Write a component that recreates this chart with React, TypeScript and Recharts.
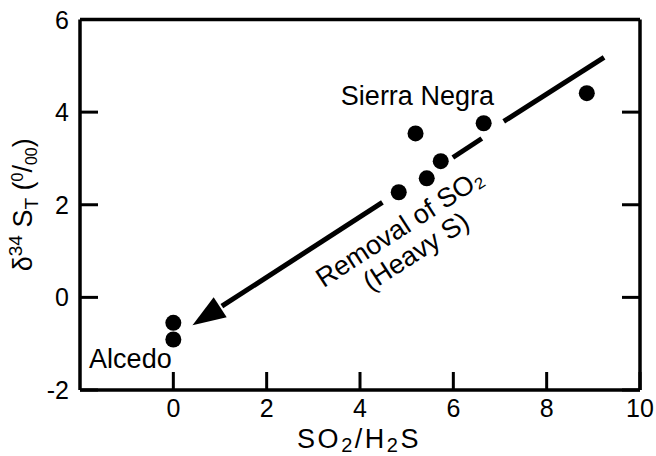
import {
  ScatterChart,
  Scatter,
  XAxis,
  YAxis,
  ReferenceLine,
  ReferenceDot,
} from "recharts";

// SO2/H2S ratio vs d34S of total sulfur
const ratio = [0, 0, 4.83, 5.43, 5.73, 5.19, 6.65, 8.86];
const delta = [-0.55, -0.91, 2.27, 2.57, 2.94, 3.54, 3.76, 4.41];

const xTicks = [0, 2, 4, 6, 8, 10];
const yTicks = [-2, 0, 2, 4, 6];

// trend arrow, drawn in three pieces (gaps around the dots)
const trendFrom = [
  { x: 9.23, y: 5.18 },
  { x: 6.61, y: 3.43 },
  { x: 4.48, y: 2.05 },
];
const trendTo = [
  { x: 7.08, y: 3.8 },
  { x: 5.99, y: 3.02 },
  { x: 0.41, y: -0.6 },
];

const siteNames = ["Sierra Negra", "Alcedo"];
const siteX = [5.23, -0.92];
const siteY = [4.35, -1.32];

const arrowNote = ["Removal of SO\u2082", "(Heavy S)"];
const noteX = [4.85, 5.2];
const noteY = [1.5, 0.99];

const points = ratio.map((r, i) => ({ x: r, y: delta[i] }));

const FONT = '"Liberation Sans", Arial, Helvetica, sans-serif';
const axisLine = { stroke: "#000", strokeWidth: 3.5 };
const TICK = 18;

const BottomTick = (props: any) => {
  const { x, y, payload } = props;
  return (
    <g>
      <line x1={x} x2={x} y1={y} y2={y - TICK} stroke="#000" strokeWidth={3} />
      <text x={x} y={y + 27} textAnchor="middle" fontFamily={FONT} fontSize={25} fill="#000">
        {payload.value}
      </text>
    </g>
  );
};

const LeftTick = (props: any) => {
  const { x, y, payload } = props;
  return (
    <g>
      <line x1={x} x2={x + TICK} y1={y} y2={y} stroke="#000" strokeWidth={3} />
      <text x={x - 11} y={y + 9} textAnchor="end" fontFamily={FONT} fontSize={25} fill="#000">
        {payload.value}
      </text>
    </g>
  );
};

const TopTick = (props: any) => (
  <line x1={props.x} x2={props.x} y1={props.y} y2={props.y + TICK} stroke="#000" strokeWidth={3} />
);

const RightTick = (props: any) => (
  <line x1={props.x} x2={props.x - TICK} y1={props.y} y2={props.y} stroke="#000" strokeWidth={3} />
);

const Dot = (props: any) => <circle cx={props.cx} cy={props.cy} r={8} fill="#000" />;

const ArrowEnd = (props: any) => {
  const { x1, y1, x2, y2 } = props;
  const dx = x1 - x2;
  const dy = y1 - y2;
  const len = Math.sqrt(dx * dx + dy * dy);
  const ux = dx / len;
  const uy = dy / len;
  const bx = x2 + ux * 33;
  const by = y2 + uy * 33;
  const w = 12;
  return (
    <g>
      <line x1={x1} y1={y1} x2={bx + ux * 2} y2={by + uy * 2} stroke="#000" strokeWidth={5} />
      <polygon
        points={`${x2},${y2} ${bx - uy * w},${by + ux * w} ${bx + uy * w},${by - ux * w}`}
        fill="#000"
      />
    </g>
  );
};

const renderYLabel = (props: any) => {
  const vb = props.viewBox;
  const cx = vb.x + 12;
  const cy = vb.y + vb.height / 2;
  return (
    <text
      x={cx}
      y={cy}
      transform={`rotate(-90, ${cx}, ${cy})`}
      textAnchor="middle"
      fontFamily={FONT}
      fontSize={27}
      fill="#000"
    >
      <tspan>δ</tspan>
      <tspan fontSize={19} dy={-10}>34</tspan>
      <tspan dy={10}> S</tspan>
      <tspan fontSize={19} dy={6}>T</tspan>
      <tspan dy={-6}> (</tspan>
      <tspan fontSize={16} dy={-9}>0</tspan>
      <tspan dy={9}>/</tspan>
      <tspan fontSize={16} dy={5}>00</tspan>
      <tspan dy={-5}>)</tspan>
    </text>
  );
};

const renderXLabel = (props: any) => {
  const vb = props.viewBox;
  return (
    <text
      x={vb.x + vb.width / 2 - 1}
      y={vb.y + 58}
      textAnchor="middle"
      fontFamily={FONT}
      fontSize={27}
      letterSpacing={2.5}
      fill="#000"
    >
      <tspan>SO</tspan>
      <tspan fontSize={20} dy={4}>2</tspan>
      <tspan dy={-4}>/H</tspan>
      <tspan fontSize={20} dy={4}>2</tspan>
      <tspan dy={-4}>S</tspan>
    </text>
  );
};

const makeText = (label: string, rotate: number) => (props: any) => (
  <text
    x={props.cx}
    y={props.cy}
    dy={9}
    textAnchor="middle"
    fontFamily={FONT}
    fontSize={27}
    fill="#000"
    transform={rotate ? `rotate(${rotate}, ${props.cx}, ${props.cy})` : undefined}
  >
    {label}
  </text>
);

export default function App() {
  return (
    <div style={{ position: "absolute", left: 0, top: 0, background: "#fff" }}>
      <ScatterChart
        width={656}
        height={456}
        margin={{ top: 18.5, right: 15, bottom: 6, left: 20 }}
      >
        <XAxis
          xAxisId="b"
          type="number"
          dataKey="x"
          domain={[-2, 10]}
          ticks={xTicks}
          interval={0}
          allowDataOverflow
          height={60}
          axisLine={axisLine}
          tickLine={false}
          tickSize={0}
          tickMargin={0}
          tick={BottomTick}
          label={{ content: renderXLabel }}
        />
        <XAxis
          xAxisId="t"
          orientation="top"
          type="number"
          domain={[-2, 10]}
          ticks={xTicks}
          interval={0}
          allowDataOverflow
          height={1}
          axisLine={axisLine}
          tickLine={false}
          tickSize={0}
          tickMargin={0}
          tick={TopTick}
        />
        <YAxis
          yAxisId="l"
          type="number"
          dataKey="y"
          domain={[-2, 6]}
          ticks={yTicks}
          interval={0}
          allowDataOverflow
          width={60}
          axisLine={axisLine}
          tickLine={false}
          tickSize={0}
          tickMargin={0}
          tick={LeftTick}
          label={{ content: renderYLabel }}
        />
        <YAxis
          yAxisId="r"
          orientation="right"
          type="number"
          domain={[-2, 6]}
          ticks={yTicks}
          interval={0}
          allowDataOverflow
          width={1}
          axisLine={axisLine}
          tickLine={false}
          tickSize={0}
          tickMargin={0}
          tick={RightTick}
        />
        {trendFrom.map((p, i) => (
          <ReferenceLine
            key={`seg-${i}`}
            xAxisId="b"
            yAxisId="l"
            segment={[p, trendTo[i]]}
            stroke="#000"
            strokeWidth={5}
            shape={i === trendFrom.length - 1 ? ArrowEnd : undefined}
          />
        ))}
        <Scatter
          xAxisId="b"
          yAxisId="l"
          data={points}
          shape={Dot}
          isAnimationActive={false}
        />
        {siteNames.map((n, i) => (
          <ReferenceDot
            key={n}
            xAxisId="b"
            yAxisId="l"
            x={siteX[i]}
            y={siteY[i]}
            r={0}
            shape={makeText(n, 0)}
          />
        ))}
        {arrowNote.map((n, i) => (
          <ReferenceDot
            key={n}
            xAxisId="b"
            yAxisId="l"
            x={noteX[i]}
            y={noteY[i]}
            r={0}
            shape={makeText(n, -33)}
          />
        ))}
      </ScatterChart>
    </div>
  );
}
